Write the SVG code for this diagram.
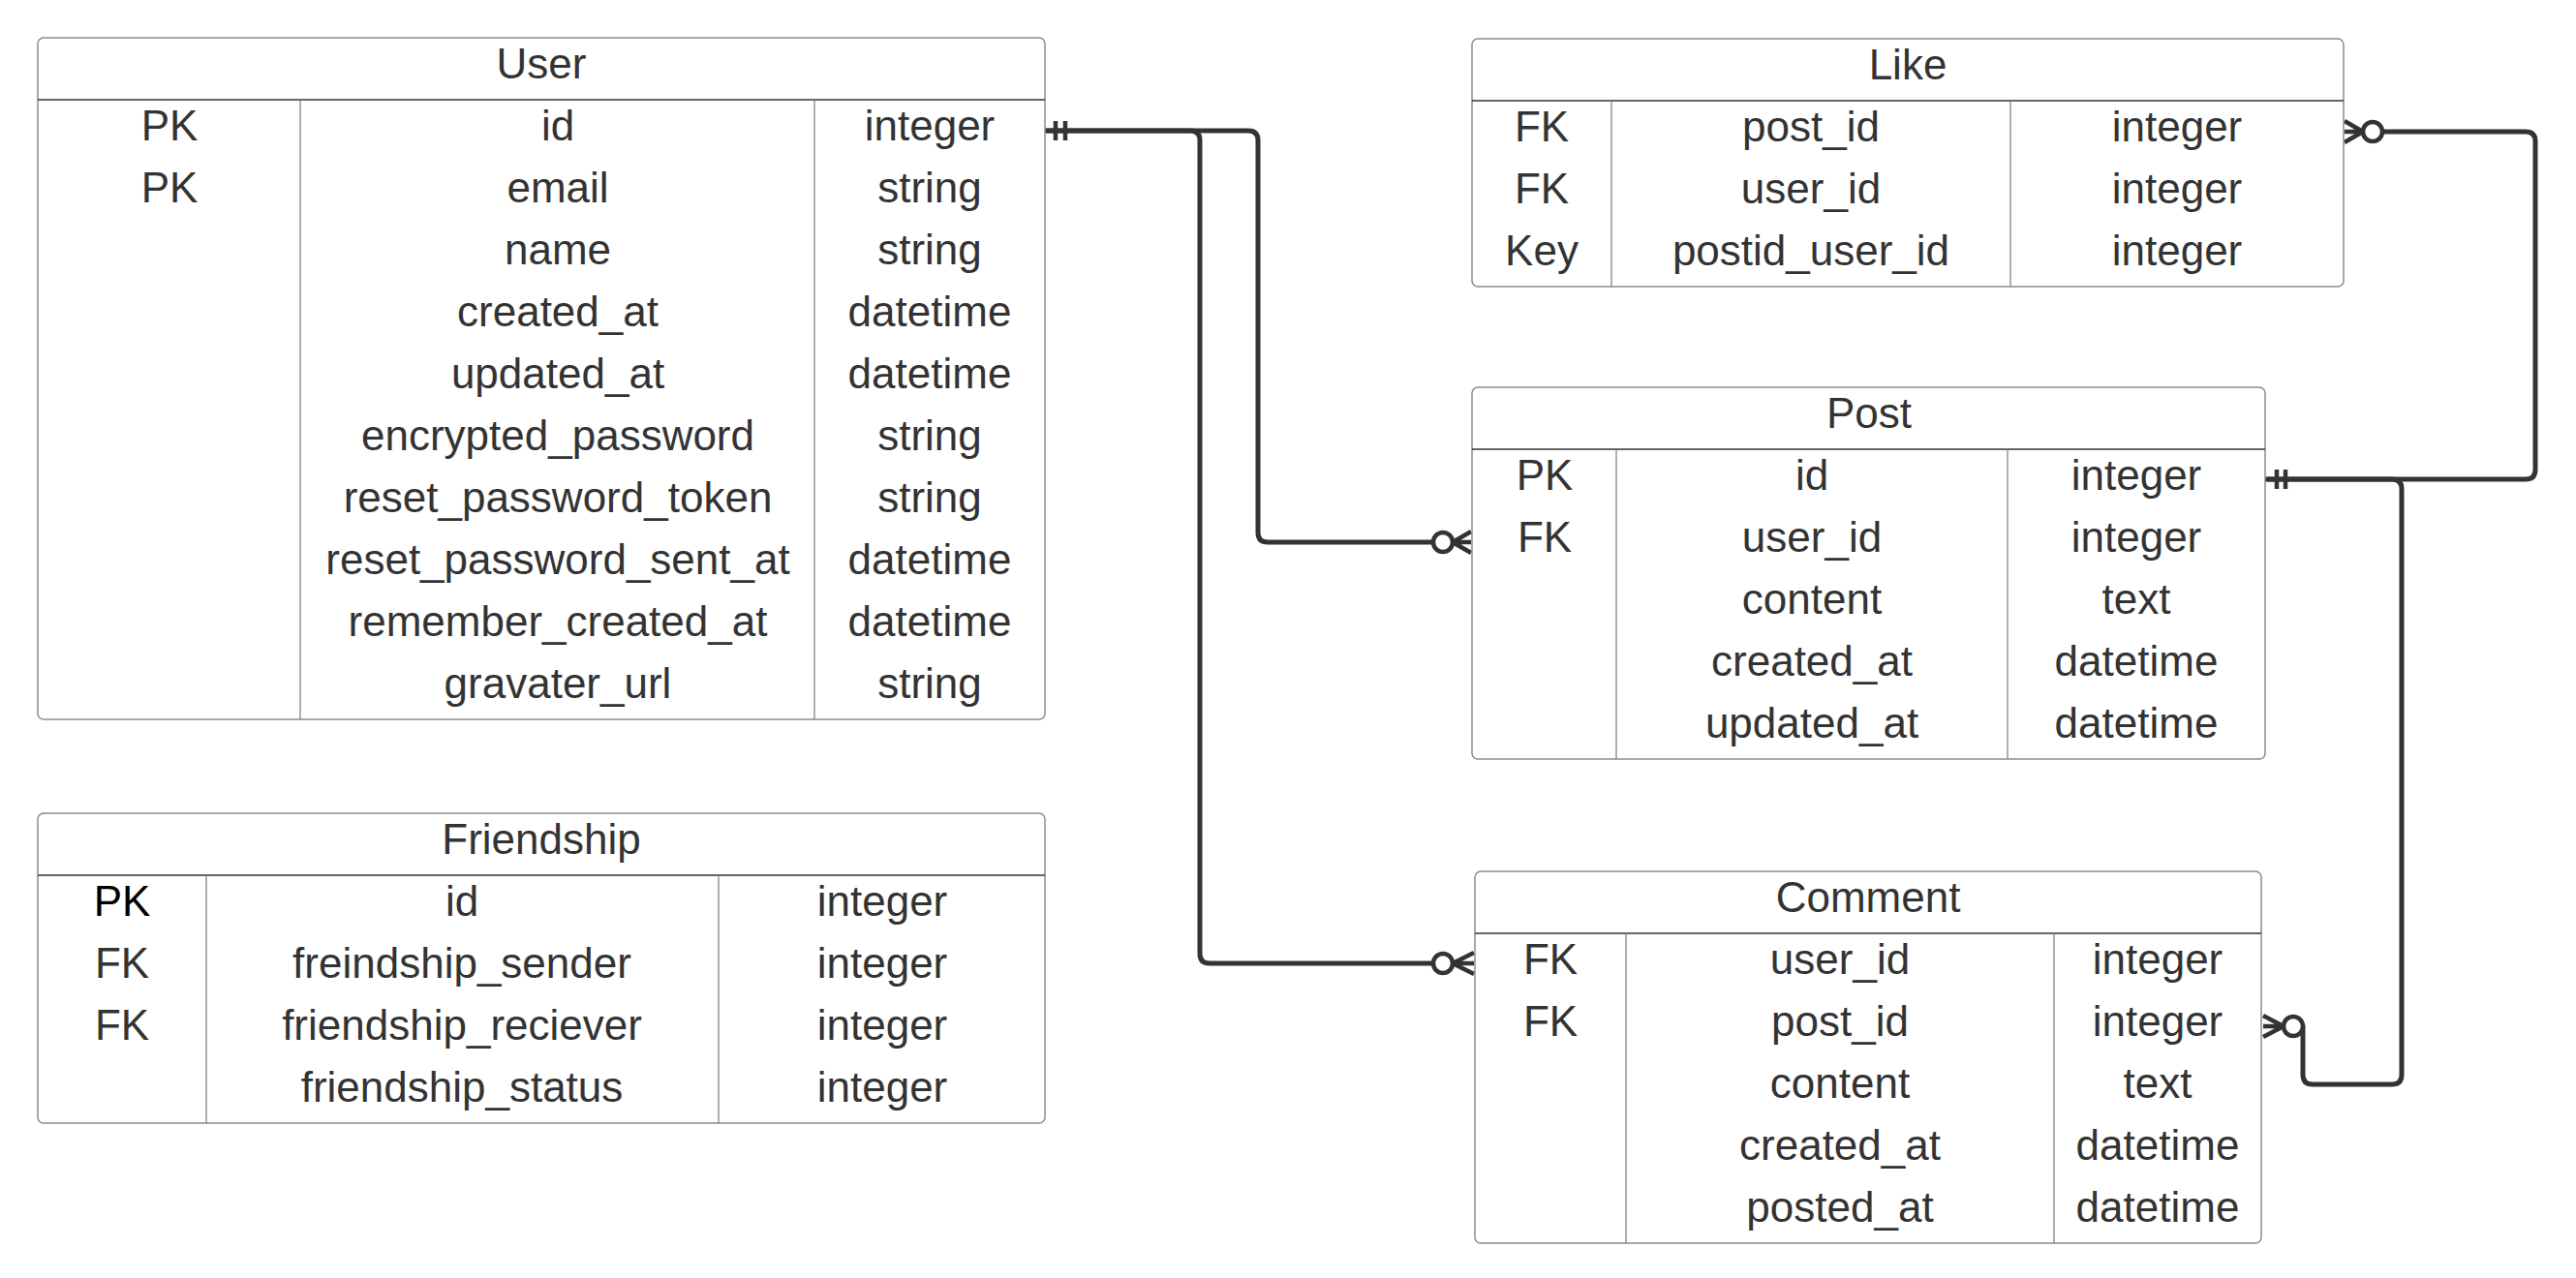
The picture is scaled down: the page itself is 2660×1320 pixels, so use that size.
<svg xmlns="http://www.w3.org/2000/svg" width="2660" height="1320" viewBox="0 0 2660 1320">
<style>
.box{fill:#fff;stroke:#8c8c8c;stroke-width:1.5}
.hdr{stroke:#333;stroke-width:1.5}
.col{stroke:#7a7a7a;stroke-width:1.2}
text{font-family:"Liberation Sans",Arial,sans-serif;font-size:44px;fill:#333;text-anchor:middle}
.conn{fill:none;stroke:#333;stroke-width:5;stroke-linecap:round;stroke-linejoin:round}
.mark{fill:none;stroke:#333;stroke-width:4.5}
.ring{fill:#fff;stroke:#333;stroke-width:4.5}
</style>
<rect width="2660" height="1320" fill="#fff"/>
<g id="connectors">
<path class="conn" d="M1081,135 H1229 Q1239,135 1239,145 V985 Q1239,995 1249,995 H1480"/>
<path class="conn" d="M1081,135 H1289 Q1299,135 1299,145 V550 Q1299,560 1309,560 H1480"/>
<path class="conn" d="M2341,495 H2608 Q2618,495 2618,485 V146 Q2618,136 2608,136 H2460"/>
<path class="conn" d="M2341,495 H2470 Q2480,495 2480,505 V1110 Q2480,1120 2470,1120 H2388 Q2378,1120 2378,1110 V1060"/>
<path class="mark" d="M1090,125 V145 M1100,125 V145"/>
<path class="mark" d="M2351,485 V505 M2360,485 V505"/>
<circle class="ring" cx="1490" cy="560" r="10"/>
<path class="mark" d="M1500,560 L1519,549 M1500,560 L1519,560 M1500,560 L1519,571"/>
<circle class="ring" cx="1490" cy="995" r="10"/>
<path class="mark" d="M1500,995 L1522,984 M1500,995 L1522,995 M1500,995 L1522,1006"/>
<circle class="ring" cx="2450" cy="136" r="10"/>
<path class="mark" d="M2440,136 L2421,125 M2440,136 L2421,136 M2440,136 L2421,147"/>
<circle class="ring" cx="2368" cy="1060" r="10"/>
<path class="mark" d="M2358,1060 L2337,1049 M2358,1060 L2337,1060 M2358,1060 L2337,1071"/>
</g>
<g id="user">
<rect class="box" x="39" y="39" width="1040" height="704" rx="6"/>
<line class="hdr" x1="39" y1="103" x2="1079" y2="103"/>
<line class="col" x1="310" y1="103" x2="310" y2="743"/>
<line class="col" x1="841" y1="103" x2="841" y2="743"/>
<text x="559" y="81">User</text>
<text x="175" y="145">PK</text><text x="576" y="145">id</text><text x="960" y="145">integer</text>
<text x="175" y="209">PK</text><text x="576" y="209">email</text><text x="960" y="209">string</text>
<text x="576" y="273">name</text><text x="960" y="273">string</text>
<text x="576" y="337">created_at</text><text x="960" y="337">datetime</text>
<text x="576" y="401">updated_at</text><text x="960" y="401">datetime</text>
<text x="576" y="465">encrypted_password</text><text x="960" y="465">string</text>
<text x="576" y="529">reset_password_token</text><text x="960" y="529">string</text>
<text x="576" y="593">reset_password_sent_at</text><text x="960" y="593">datetime</text>
<text x="576" y="657">remember_created_at</text><text x="960" y="657">datetime</text>
<text x="576" y="721">gravater_url</text><text x="960" y="721">string</text>
</g>
<g id="friendship">
<rect class="box" x="39" y="840" width="1040" height="320" rx="6"/>
<line class="hdr" x1="39" y1="904" x2="1079" y2="904"/>
<line class="col" x1="213" y1="904" x2="213" y2="1160"/>
<line class="col" x1="742" y1="904" x2="742" y2="1160"/>
<text x="559" y="882">Friendship</text>
<text x="126" y="946" style="fill:#000">PK</text><text x="477" y="946">id</text><text x="911" y="946">integer</text>
<text x="126" y="1010">FK</text><text x="477" y="1010">freindship_sender</text><text x="911" y="1010">integer</text>
<text x="126" y="1074">FK</text><text x="477" y="1074">friendship_reciever</text><text x="911" y="1074">integer</text>
<text x="477" y="1138">friendship_status</text><text x="911" y="1138">integer</text>
</g>
<g id="like">
<rect class="box" x="1520" y="40" width="900" height="256" rx="6"/>
<line class="hdr" x1="1520" y1="104" x2="2420" y2="104"/>
<line class="col" x1="1664" y1="104" x2="1664" y2="296"/>
<line class="col" x1="2076" y1="104" x2="2076" y2="296"/>
<text x="1970" y="82">Like</text>
<text x="1592" y="146">FK</text><text x="1870" y="146">post_id</text><text x="2248" y="146">integer</text>
<text x="1592" y="210">FK</text><text x="1870" y="210">user_id</text><text x="2248" y="210">integer</text>
<text x="1592" y="274">Key</text><text x="1870" y="274">postid_user_id</text><text x="2248" y="274">integer</text>
</g>
<g id="post">
<rect class="box" x="1520" y="400" width="819" height="384" rx="6"/>
<line class="hdr" x1="1520" y1="464" x2="2339" y2="464"/>
<line class="col" x1="1669" y1="464" x2="1669" y2="784"/>
<line class="col" x1="2073" y1="464" x2="2073" y2="784"/>
<text x="1930" y="442">Post</text>
<text x="1595" y="506">PK</text><text x="1871" y="506">id</text><text x="2206" y="506">integer</text>
<text x="1595" y="570">FK</text><text x="1871" y="570">user_id</text><text x="2206" y="570">integer</text>
<text x="1871" y="634">content</text><text x="2206" y="634">text</text>
<text x="1871" y="698">created_at</text><text x="2206" y="698">datetime</text>
<text x="1871" y="762">updated_at</text><text x="2206" y="762">datetime</text>
</g>
<g id="comment">
<rect class="box" x="1523" y="900" width="812" height="384" rx="6"/>
<line class="hdr" x1="1523" y1="964" x2="2335" y2="964"/>
<line class="col" x1="1679" y1="964" x2="1679" y2="1284"/>
<line class="col" x1="2121" y1="964" x2="2121" y2="1284"/>
<text x="1929" y="942">Comment</text>
<text x="1601" y="1006">FK</text><text x="1900" y="1006">user_id</text><text x="2228" y="1006">integer</text>
<text x="1601" y="1070">FK</text><text x="1900" y="1070">post_id</text><text x="2228" y="1070">integer</text>
<text x="1900" y="1134">content</text><text x="2228" y="1134">text</text>
<text x="1900" y="1198">created_at</text><text x="2228" y="1198">datetime</text>
<text x="1900" y="1262">posted_at</text><text x="2228" y="1262">datetime</text>
</g>
</svg>
